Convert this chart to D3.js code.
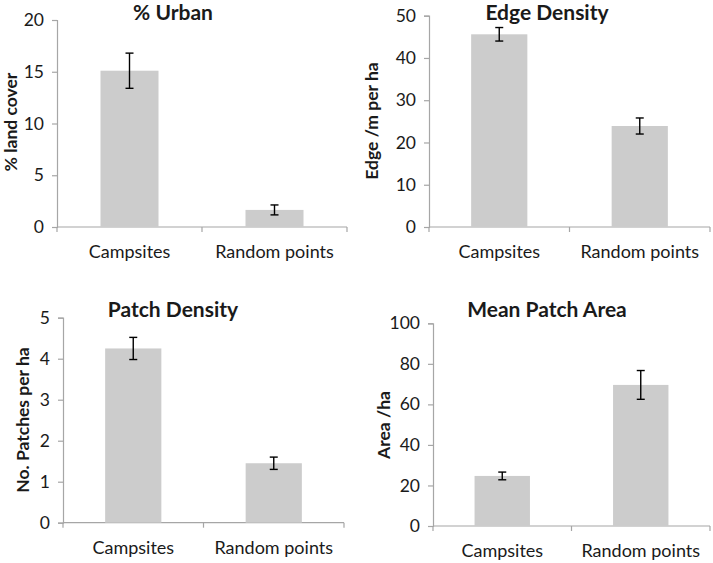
<!DOCTYPE html>
<html>
<head>
<meta charset="utf-8">
<script src="https://cdn.jsdelivr.net/npm/d3@7"></script>
<style>
  html, body { margin: 0; padding: 0; background: #fff; }
  svg { display: block; }
  text { font-family: Lato, "Open Sans", sans-serif; fill: #1a1a1a; }
</style>
</head>
<body>
<svg id="chart" width="713" height="563"></svg>
<script>
// ---- data ----
const categories = ["Campsites", "Random points"];
const titles = ["% Urban", "Edge Density", "Patch Density", "Mean Patch Area"];
const yLabels = ["% land cover", "Edge /m per ha", "No. Patches per ha", "Area /ha"];
const urbanValues = [15.1, 1.65];
const urbanErrors = [1.7, 0.48];
const edgeValues = [45.6, 23.9];
const edgeErrors = [1.6, 1.9];
const patchDensityValues = [4.25, 1.45];
const patchDensityErrors = [0.27, 0.15];
const patchAreaValues = [24.7, 69.6];
const patchAreaErrors = [1.9, 7.1];
const urbanTicks = [0, 5, 10, 15, 20];
const edgeTicks = [0, 10, 20, 30, 40, 50];
const patchDensityTicks = [0, 1, 2, 3, 4, 5];
const patchAreaTicks = [0, 20, 40, 60, 80, 100];

// ---- layout ----
const panels = [
  { values: urbanValues, errors: urbanErrors, ticks: urbanTicks,
    x0: 57, x1: 347, yTop: 20, yBot: 227, titleX: 173, titleY: 20, ylabX: 17, ylabY: 122 },
  { values: edgeValues, errors: edgeErrors, ticks: edgeTicks,
    x0: 429, x1: 710, yTop: 15.7, yBot: 227, titleX: 547, titleY: 20, ylabX: 378, ylabY: 121 },
  { values: patchDensityValues, errors: patchDensityErrors, ticks: patchDensityTicks,
    x0: 63, x1: 344, yTop: 317.7, yBot: 522.7, titleX: 173, titleY: 317, ylabX: 29, ylabY: 420 },
  { values: patchAreaValues, errors: patchAreaErrors, ticks: patchAreaTicks,
    x0: 433, x1: 710, yTop: 323.3, yBot: 526, titleX: 547, titleY: 317, ylabX: 390, ylabY: 425 }
];

const svg = d3.select("#chart");
const axisColor = "#a6a6a6";

panels.forEach((p, i) => {
  const g = svg.append("g");
  const x = d3.scaleBand().domain(categories).range([p.x0, p.x1])
    .paddingInner(0.6).paddingOuter(0.3);
  const ymax = p.ticks[p.ticks.length - 1];
  const y = d3.scaleLinear().domain([0, ymax]).range([p.yBot, p.yTop]);

  // y axis
  const yAxis = g.append("g").attr("transform", `translate(${p.x0},0)`)
    .call(d3.axisLeft(y).tickValues(p.ticks).tickSize(5).tickPadding(8).tickFormat(d3.format("d")));
  yAxis.select(".domain").attr("stroke", axisColor).attr("stroke-width", 1.2);
  yAxis.selectAll(".tick line").attr("stroke", axisColor).attr("stroke-width", 1.2);
  yAxis.selectAll(".tick text").attr("font-size", 17.5).style("font-family", "Lato, sans-serif").attr("fill", "#1a1a1a");

  // x axis baseline with tick marks at band boundaries
  const boundaries = [p.x0, (p.x0 + p.x1) / 2, p.x1];
  g.append("line").attr("x1", p.x0).attr("x2", p.x1).attr("y1", y(0)).attr("y2", y(0))
    .attr("stroke", axisColor).attr("stroke-width", 1.2);
  g.selectAll(".xt").data(boundaries).enter().append("line")
    .attr("x1", d => d).attr("x2", d => d).attr("y1", y(0)).attr("y2", y(0) + 5)
    .attr("stroke", axisColor).attr("stroke-width", 1.2);

  // bars
  g.selectAll(".bar").data(categories).enter().append("rect")
    .attr("x", d => x(d)).attr("width", x.bandwidth())
    .attr("y", (d, j) => y(p.values[j]))
    .attr("height", (d, j) => y(0) - y(p.values[j]))
    .attr("fill", "#cccccc");

  // error bars
  const cap = 4;
  categories.forEach((c, j) => {
    const cx = x(c) + x.bandwidth() / 2;
    const hi = y(p.values[j] + p.errors[j]);
    const lo = y(p.values[j] - p.errors[j]);
    g.append("line").attr("x1", cx).attr("x2", cx).attr("y1", hi).attr("y2", lo)
      .attr("stroke", "#000").attr("stroke-width", 1.4);
    [hi, lo].forEach(v => g.append("line").attr("x1", cx - cap).attr("x2", cx + cap)
      .attr("y1", v).attr("y2", v).attr("stroke", "#000").attr("stroke-width", 1.4));
  });

  // category labels
  g.selectAll(".cl").data(categories).enter().append("text")
    .attr("x", d => x(d) + x.bandwidth() / 2).attr("y", y(0) + 31)
    .attr("text-anchor", "middle").attr("font-size", 18).text(d => d);

  // title
  g.append("text").attr("x", p.titleX).attr("y", p.titleY).attr("text-anchor", "middle")
    .attr("font-size", 21).attr("font-weight", "bold").text(titles[i]);

  // y label
  g.append("text").attr("transform", `translate(${p.ylabX},${p.ylabY}) rotate(-90)`)
    .attr("text-anchor", "middle").attr("font-size", 17.5).attr("font-weight", "bold")
    .text(yLabels[i]);
});
</script>
</body>
</html>
